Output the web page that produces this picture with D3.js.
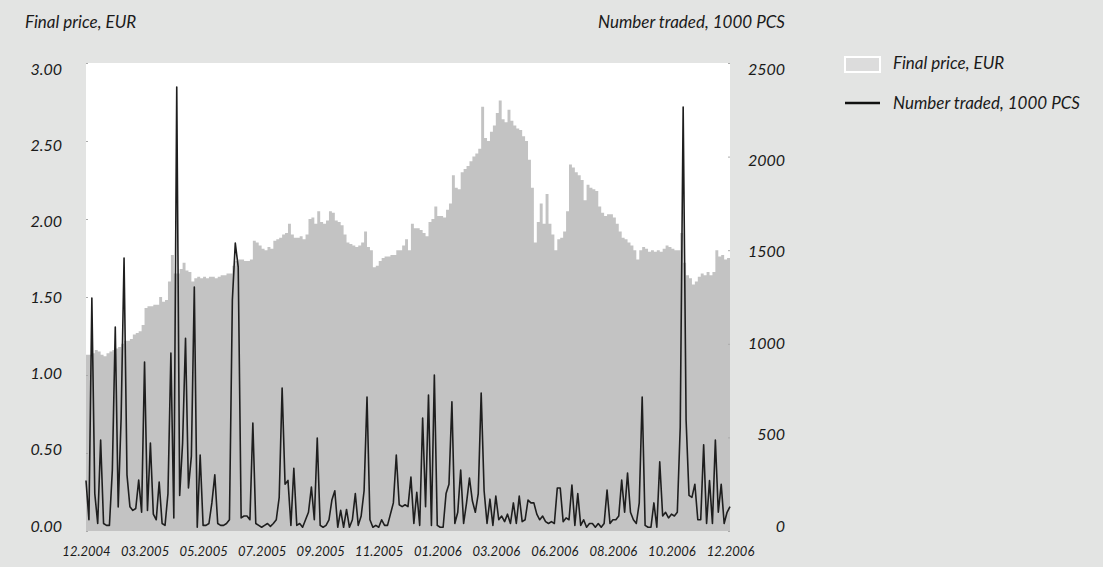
<!DOCTYPE html>
<html><head><meta charset="utf-8">
<script src="https://cdn.jsdelivr.net/npm/d3@7"></script>
<style>
html,body{margin:0;padding:0;background:#e3e4e3;}
text{font-family:Lato,"Open Sans",sans-serif;font-style:italic;fill:#1a1a1a;}
</style></head>
<body><svg id="c" width="1103" height="567"></svg>
<script>
// Final price, EUR (one value per sampled trading day)
const price = [
1.13,1.13,1.14,1.16,1.15,1.13,1.12,1.14,1.15,1.16,
1.17,1.18,1.20,1.22,1.22,1.23,1.26,1.27,1.28,1.32,
1.43,1.44,1.44,1.45,1.45,1.50,1.47,1.48,1.60,1.77,
1.65,1.65,1.68,1.72,1.67,1.66,1.60,1.62,1.63,1.62,
1.63,1.62,1.63,1.63,1.62,1.63,1.64,1.64,1.65,1.65,
1.70,1.73,1.74,1.74,1.73,1.73,1.74,1.86,1.85,1.83,
1.81,1.80,1.82,1.81,1.86,1.87,1.88,1.90,1.91,1.97,
1.90,1.88,1.88,1.89,1.87,1.90,2.00,2.01,1.97,2.05,
1.98,1.97,1.99,2.05,2.04,1.99,1.98,1.96,1.90,1.85,
1.84,1.83,1.82,1.83,1.85,1.92,1.82,1.80,1.69,1.70,
1.73,1.75,1.76,1.76,1.77,1.77,1.80,1.80,1.83,1.87,
1.80,1.97,1.94,1.94,1.93,1.91,1.89,1.98,2.00,2.08,
2.02,2.02,2.01,2.06,2.10,2.28,2.20,2.19,2.30,2.32,
2.34,2.37,2.40,2.42,2.45,2.72,2.52,2.50,2.56,2.60,
2.68,2.76,2.64,2.62,2.70,2.63,2.60,2.58,2.57,2.53,
2.50,2.38,2.20,1.85,1.98,2.10,1.97,2.16,1.97,1.90,
1.80,1.87,1.88,1.92,2.05,2.35,2.33,2.30,2.28,2.25,
2.12,2.22,2.20,2.19,2.18,2.08,2.04,2.02,2.03,2.03,
2.01,1.97,1.92,1.88,1.87,1.85,1.83,1.80,1.74,1.80,
1.82,1.81,1.79,1.80,1.79,1.80,1.79,1.81,1.83,1.82,
1.81,1.80,1.80,1.91,1.72,1.64,1.62,1.58,1.60,1.63,
1.65,1.64,1.66,1.64,1.66,1.80,1.76,1.77,1.74,1.75,
1.73
];
// Number traded, 1000 PCS
const volume = [
270,60,1245,200,40,486,40,30,30,326,
1090,128,604,1458,300,130,110,120,272,100,
903,110,470,90,60,262,40,30,200,950,
70,2372,190,470,1030,230,400,1303,20,406,
30,30,40,150,300,40,30,30,40,60,
1234,1538,1410,70,80,80,60,577,40,30,
20,30,40,25,40,60,180,764,250,270,
30,335,30,40,20,60,100,235,60,497,
30,20,30,60,165,215,20,110,20,115,
20,60,200,30,80,215,716,60,20,30,
20,60,30,30,90,150,406,140,130,140,
130,288,40,207,30,604,130,726,30,833,
30,20,20,200,250,690,40,100,326,40,
150,283,160,100,200,737,215,40,170,30,
187,60,80,50,90,40,150,40,187,50,
60,165,150,150,90,60,80,50,40,50,
40,230,230,50,70,60,246,30,200,30,
60,20,40,40,20,40,20,40,219,40,
60,60,80,272,100,310,100,60,40,150,
716,30,20,20,150,20,369,80,100,70,
90,80,100,556,2265,593,190,180,250,60,
60,460,40,270,40,486,100,250,40,100,
130
];
const xLabels = ["12.2004","03.2005","05.2005","07.2005","09.2005","11.2005","01.2006","03.2006","06.2006","08.2006","10.2006","12.2006"];
const priceTicks = [0,0.5,1,1.5,2,2.5,3];
const volumeTicks = [0,500,1000,1500,2000,2500];
const labelStep = 20;

const svg = d3.select("#c");
const L = 86, R = 730, T = 63, B = 531;

svg.append("rect").attr("width",1103).attr("height",567).attr("fill","#e3e4e3");
svg.append("rect").attr("x",L).attr("y",T).attr("width",R-L).attr("height",B-T).attr("fill","#ffffff");

const x = d3.scaleLinear().domain([0, price.length-1]).range([L, R]);
const yP = d3.scaleLinear().domain([0,3]).range([B, T]);
const yV = d3.scaleLinear().domain([0,2500]).range([B, T]);
// label placement scales (labels sit slightly inside the tick span)
const yPL = d3.scaleLinear().domain([0,3]).range([526, 69]);
const yVL = d3.scaleLinear().domain([0,2500]).range([526, 69]);

const area = d3.area().x((d,i)=>x(i)).y0(B).y1(d=>yP(d)).curve(d3.curveStepAfter);
svg.append("path").datum(price).attr("d",area).attr("fill","#c3c3c3");

const line = d3.line().x((d,i)=>x(i)).y(d=>yV(d));
svg.append("path").datum(volume).attr("d",line).attr("fill","none")
  .attr("stroke","#1e1e1e").attr("stroke-width",1.6).attr("stroke-linejoin","round");

// tiny tick marks
svg.append("g").attr("transform",`translate(${L},0)`)
  .call(d3.axisRight(yP).tickValues(priceTicks).tickSize(2).tickFormat(""))
  .call(g=>{g.select(".domain").remove();g.selectAll("line").attr("stroke","#aaa");});
svg.append("g").attr("transform",`translate(${R},0)`)
  .call(d3.axisLeft(yV).tickValues(volumeTicks).tickSize(2).tickFormat(""))
  .call(g=>{g.select(".domain").remove();g.selectAll("line").attr("stroke","#aaa");});

const styleText = (g, fs) => {g.select(".domain").remove();g.selectAll("text").attr("font-size",fs).attr("fill","#1a1a1a").attr("font-family","Lato").attr("font-style","italic");};
// left labels
svg.append("g").attr("transform",`translate(62,0)`)
  .call(d3.axisLeft(yPL).tickValues(priceTicks).tickSize(0).tickPadding(0).tickFormat(d3.format(".2f")))
  .call(g=>styleText(g,16));
// right labels
svg.append("g").attr("transform",`translate(785,0)`)
  .call(d3.axisLeft(yVL).tickValues(volumeTicks).tickSize(0).tickPadding(0).tickFormat(d3.format("d")))
  .call(g=>styleText(g,16));
// x labels
svg.append("g").attr("transform",`translate(0,547)`)
  .call(d3.axisBottom(x).tickValues(d3.range(0, price.length, labelStep)).tickSize(0).tickPadding(0).tickFormat((d,i)=>xLabels[i]))
  .call(g=>styleText(g,13));

// axis titles
svg.append("text").attr("x",25).attr("y",28).attr("font-size",17).text("Final price, EUR");
svg.append("text").attr("x",785).attr("y",28).attr("font-size",17).attr("text-anchor","end").text("Number traded, 1000 PCS");

// legend
svg.append("rect").attr("x",845).attr("y",57).attr("width",35).attr("height",15)
  .attr("fill","#dcdcdc").attr("stroke","#ffffff").attr("stroke-width",2);
svg.append("text").attr("x",893).attr("y",69).attr("font-size",17).text("Final price, EUR");
svg.append("line").attr("x1",845).attr("x2",880).attr("y1",103).attr("y2",103)
  .attr("stroke","#111").attr("stroke-width",2.5);
svg.append("text").attr("x",893).attr("y",109).attr("font-size",17).text("Number traded, 1000 PCS");
</script></body></html>
